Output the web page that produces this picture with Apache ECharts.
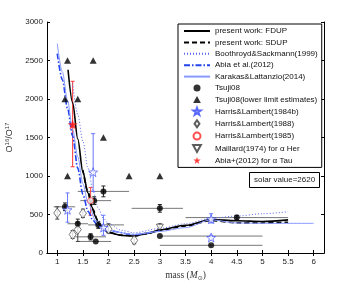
<!DOCTYPE html>
<html><head><meta charset="utf-8">
<script src="https://cdn.jsdelivr.net/npm/echarts@6/dist/echarts.min.js"></script>
<style>html,body{margin:0;padding:0;background:#fff}#c{width:359px;height:285px}</style>
</head><body><div id="c"></div>
<script>
// ---- data ----
const xTicks = [1,1.5,2,2.5,3,3.5,4,4.5,5,5.5,6];
const fdup = [[1.21,2380],[1.3,1950],[1.4,1480],[1.5,1050],[1.6,780],[1.67,600],[1.75,470],[1.8,390],[1.9,310],[2.0,265],[2.25,228],[2.5,220],[2.75,255],[3.0,300],[3.5,360],[4.0,435],[4.5,418],[5.0,410],[5.5,430]];
const sdup = [[1.5,1080],[1.6,790],[1.7,560],[1.8,395],[1.9,315],[2.0,268],[2.25,232],[2.5,222],[2.75,250],[3.0,295],[3.5,350],[4.0,420],[4.5,392],[5.0,390],[5.5,400]];
const boothroyd = [[1.3,2200],[1.4,1800],[1.5,1450],[1.6,1100],[1.7,800],[1.8,580],[1.9,450],[2.0,380],[2.25,295],[2.5,262],[3.0,320],[3.5,380],[4.0,450],[4.5,480],[5.0,510],[5.5,535]];
const abia = [[1.0,2590],[1.1,2250],[1.2,1880],[1.3,1520],[1.4,1100],[1.5,760],[1.6,540],[1.7,420],[1.8,350],[2.0,290],[2.5,240],[3.0,290]];
const karakas = [[1.0,2720],[1.1,2350],[1.2,1980],[1.3,1600],[1.4,1250],[1.5,900],[1.6,650],[1.75,420],[2.0,290],[2.5,240],[3.0,280],[3.5,330],[4.0,430],[4.5,390],[5.0,385],[6.0,385]];
// Tsuji08: [mass, value, massLo, massHi, valLo, valHi]
const tsuji = [[1.15,600,0.93,1.35,550,650],[1.4,380,1.2,1.6,330,440],[1.65,210,1.35,1.95,170,250],[1.75,150,1.38,2.05,null,null],[1.72,680,1.45,2.05,630,730],[1.9,800,1.4,2.4,730,870],[1.8,365,1.6,2.3,320,410],[3.0,580,2.45,3.45,530,630],[3.0,220,3.0,5.0,null,null],[4.0,100,3.0,5.0,null,null],[4.5,460,3.5,5.5,430,490]];
const tsujiLower = [[1.2,2500],[1.7,2500],[1.15,2000],[1.4,2000],[1.9,1500],[1.2,1000],[2.4,1000],[3.0,1000]];
// [mass, value, lo, hi]
const hl84 = [[1.7,1050,800,1550],[1.2,560,400,780],[1.9,330,230,490],[4.0,440,390,510],[4.0,200,170,230]];
const hl88 = [[1.0,520,440,600],[1.5,515,460,570],[1.3,240,190,290],[1.4,305,150,400],[2.0,310,260,380],[2.5,165,120,220]];
const hl85 = [[1.65,680,490,850]];
const maillard = [[3.0,335,290,380]];
const abiaTau = [[1.3,1670,1120,2230]];

const STAR = 'path://M0,-10L2.35,-3.24L9.51,-3.09L3.8,1.24L5.88,8.09L0,4L-5.88,8.09L-3.8,1.24L-9.51,-3.09L-2.35,-3.24Z';
const DTRI = 'path://M0,0L10,0L5,9Z';
const UTRI = 'path://M5,0L10,9L0,9Z';
const DIAM = 'path://M3.5,0L7,5L3.5,10L0,5Z';
const CIRC = 'path://M5,0A5,5 0 1 1 5,10A5,5 0 1 1 5,0Z';

const hbarData = tsuji.map(d=>[d[2],d[3],d[1]]);
function hbarSeries(data,color){
  return {type:'custom', silent:true, z:1, data:data, renderItem:(p,api)=>{
    const a=api.coord([api.value(0),api.value(2)]), b=api.coord([api.value(1),api.value(2)]);
    return {type:'line', shape:{x1:a[0],y1:a[1],x2:b[0],y2:b[1]}, style:{stroke:color,lineWidth:1}};
  }};
}
function vbarSeries(data,color){
  return {type:'custom', silent:true, z:1, data:data, renderItem:(p,api)=>{
    const a=api.coord([api.value(0),api.value(1)]), b=api.coord([api.value(0),api.value(2)]);
    const w=2;
    return {type:'group', children:[
      {type:'line', shape:{x1:a[0],y1:a[1],x2:b[0],y2:b[1]}, style:{stroke:color,lineWidth:1}},
      {type:'line', shape:{x1:a[0]-w,y1:a[1],x2:a[0]+w,y2:a[1]}, style:{stroke:color,lineWidth:1}},
      {type:'line', shape:{x1:b[0]-w,y1:b[1],x2:b[0]+w,y2:b[1]}, style:{stroke:color,lineWidth:1}}
    ]};
  }};
}
const pts = arr => arr.map(d=>[d[0],d[1]]);
const vb = arr => arr.filter(d=>d[2]!=null).map(d=>[d[0],d[2],d[3]]);
const tsujiV = tsuji.filter(d=>d[4]!=null).map(d=>[d[0],d[4],d[5]]);

const names = ['present work: FDUP','present work: SDUP','Boothroyd&Sackmann(1999)','Abia et al.(2012)','Karakas&Lattanzio(2014)','Tsuji08','Tsuji08(lower limit estimates)','Harris&Lambert(1984b)','Harris&Lambert(1988)','Harris&Lambert(1985)','Maillard(1974) for α Her','Abia+(2012) for α Tau'];
const noSym = {color:'rgba(0,0,0,0)', borderColor:'rgba(0,0,0,0)', borderWidth:0};
const legendData = names.map((n,i)=> i<5 ? {name:n, itemStyle:noSym} : {name:n});

const lineBase = {type:'line', showSymbol:false, symbol:'none', smooth:0.3, smoothMonotone:'x', z:3};
const axFont = {fontSize:8, color:'#222', fontFamily:'Liberation Sans'};

const chart = echarts.init(document.getElementById('c'), null, {renderer:'canvas'});
chart.setOption({
  animation:false,
  backgroundColor:'#fff',
  grid:{left:47, right:35, top:22, bottom:32, containLabel:false, outerBoundsMode:'none'},
  title:{text:'solar value=2620', left:249, top:172, borderColor:'#000', borderWidth:1, padding:[4,5,4,5],
    textStyle:{fontSize:8, fontWeight:'normal', color:'#222', fontFamily:'Liberation Sans'}},
  legend:{orient:'vertical', left:178, top:24, itemWidth:26, itemHeight:7, itemGap:3.4,
    padding:[3,4,3,5], borderColor:'#000', borderWidth:1, backgroundColor:'#fff', symbolKeepAspect:true,
    textStyle:{fontSize:8, color:'#111', fontFamily:'Liberation Sans'}, data:legendData},
  xAxis:[{type:'value', min:0.8, max:6.2, position:'bottom',
      name:'{n|mass (}{i|M}{s|⊙}{n|)}', nameLocation:'middle', nameGap:15,
      nameTextStyle:{rich:{n:{fontFamily:'Liberation Serif',fontSize:9.5,color:'#333'},i:{fontFamily:'Liberation Serif',fontStyle:'italic',fontSize:9.5,color:'#333'},s:{fontFamily:'DejaVu Sans',fontSize:6,color:'#333',verticalAlign:'bottom',padding:[6,0,0,0]}}},
      axisLine:{lineStyle:{color:'#000'}}, splitLine:{show:false},
      axisTick:{inside:true, length:3, customValues:xTicks, lineStyle:{color:'#000'}},
      axisLabel:{customValues:xTicks, margin:5, formatter:v=>String(v), ...axFont}},
    {type:'value', min:0.8, max:6.2, position:'top', axisLine:{lineStyle:{color:'#000'}}, splitLine:{show:false},
      axisTick:{inside:true, length:3, customValues:xTicks, lineStyle:{color:'#000'}}, axisLabel:{show:false}}],
  yAxis:[{type:'value', min:0, max:3000, interval:500,
      name:'{b|O}{s|16}{b|/O}{s|17}', nameLocation:'middle', nameGap:29, nameRotate:90,
      nameTextStyle:{rich:{b:{fontSize:9,color:'#333',fontFamily:'Liberation Sans'},s:{fontSize:6,color:'#333',fontFamily:'Liberation Sans',verticalAlign:'top',padding:[0,0,5,0]}}},
      axisLine:{show:true,lineStyle:{color:'#000'}}, splitLine:{show:false},
      axisTick:{show:true, inside:true, length:3, lineStyle:{color:'#000'}},
      axisLabel:{margin:4, formatter:v=>String(v), ...axFont}},
    {type:'value', min:0, max:3000, interval:500, position:'right', axisLine:{show:true,lineStyle:{color:'#000'}}, splitLine:{show:false},
      axisTick:{show:true, inside:true, length:3, lineStyle:{color:'#000'}}, axisLabel:{show:false}}],
  series:[
    hbarSeries(hbarData,'#777'),
    vbarSeries(tsujiV,'#222'),
    vbarSeries(vb(hl84),'#6677ff'),
    vbarSeries(vb(hl88),'#444'),
    vbarSeries(vb(hl85),'#ff4444'),
    vbarSeries(vb(maillard),'#444'),
    vbarSeries(vb(abiaTau),'#ff3333'),
    {...lineBase, name:names[0], data:fdup, lineStyle:{color:'#000', width:1.6}, itemStyle:{color:'#000'}},
    {...lineBase, name:names[1], data:sdup, lineStyle:{color:'#000', width:1.6, type:[5,3]}, itemStyle:{color:'#000'}},
    {...lineBase, name:names[2], data:boothroyd, lineStyle:{color:'#5566ee', width:1, type:[1,2]}, itemStyle:{color:'#5566ee'}},
    {...lineBase, name:names[3], data:abia, lineStyle:{color:'#2244ee', width:1.6, type:[6,2,1.5,2]}, itemStyle:{color:'#2244ee'}},
    {...lineBase, name:names[4], data:karakas, lineStyle:{color:'#8899ff', width:1}, itemStyle:{color:'#aab4ff'}},
    {type:'scatter', name:names[5], data:pts(tsuji), symbol:CIRC, symbolSize:6, itemStyle:{color:'#000'}, z:5},
    {type:'scatter', name:names[6], data:tsujiLower, symbol:UTRI, symbolSize:[7,6.5], itemStyle:{color:'#000'}, z:5},
    {type:'scatter', name:names[7], data:pts(hl84), symbol:STAR, symbolSize:9, itemStyle:{color:'#fff', borderColor:'#3344ff', borderWidth:0.8}, z:5},
    {type:'scatter', name:names[8], data:pts(hl88), symbol:DIAM, symbolSize:[7,10], itemStyle:{color:'#fff', borderColor:'#333', borderWidth:0.8}, z:4},
    {type:'scatter', name:names[9], data:pts(hl85), symbol:CIRC, symbolSize:6, itemStyle:{color:'#fff', borderColor:'#ff2222', borderWidth:0.8}, z:5},
    {type:'scatter', name:names[10], data:pts(maillard), symbol:DTRI, symbolSize:[7,6], itemStyle:{color:'#fff', borderColor:'#333', borderWidth:0.8}, z:5},
    {type:'scatter', name:names[11], data:pts(abiaTau), symbol:STAR, symbolSize:10, itemStyle:{color:'#ff1111'}, z:6}
  ]
});
</script></body></html>
